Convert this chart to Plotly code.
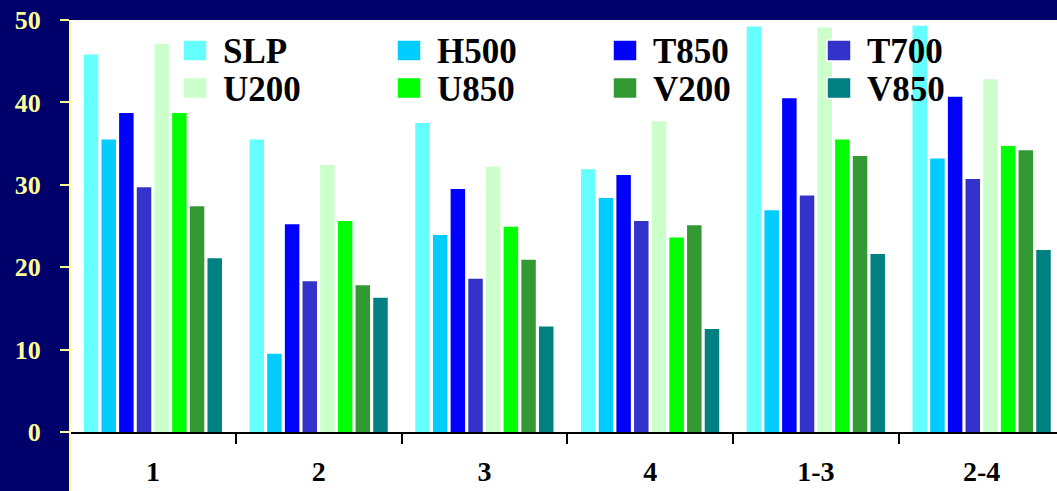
import plotly.graph_objects as go

categories = ["1", "2", "3", "4", "1-3", "2-4"]
series_names = ["SLP", "H500", "T850", "T700", "U200", "U850", "V200", "V850"]
SLP = [45.8, 35.5, 37.5, 31.9, 49.2, 49.3]
H500 = [35.5, 9.5, 23.9, 28.4, 26.9, 33.2]
T850 = [38.7, 25.2, 29.5, 31.2, 40.5, 40.7]
T700 = [29.7, 18.3, 18.6, 25.6, 28.7, 30.7]
U200 = [47.1, 32.4, 32.2, 37.7, 49.1, 42.8]
U850 = [38.7, 25.6, 24.9, 23.6, 35.5, 34.7]
V200 = [27.4, 17.8, 20.9, 25.1, 33.5, 34.2]
V850 = [21.1, 16.3, 12.8, 12.5, 21.6, 22.1]
y_ticks = [0, 10, 20, 30, 40, 50]
colors = ["#66FFFF", "#00CCFF", "#0000FF", "#3333CC",
          "#CCFFCC", "#00FF00", "#339933", "#008080"]

series_values = [SLP, H500, T850, T700, U200, U850, V200, V850]

W, H = 1057, 491
ML, MR, MT, MB = 70, 0, 20, 59
PW, PH = W - ML - MR, H - MT - MB
FONT = "Liberation Serif, Times New Roman, serif"
YEL = "#FFFF99"

def px_x(px):
    return (px - ML) / PW

def px_y(py):
    return (H - MB - py) / PH

fig = go.Figure()
for name, vals, col in zip(series_names, series_values, colors):
    fig.add_trace(go.Bar(x=categories, y=vals, name=name, marker_color=col,
                         marker_line_width=0, showlegend=False))

x_range = [-0.5, -0.5 + PW / 165.75]

shapes = [
    # white area below the axis
    dict(type="rect", xref="paper", yref="paper", x0=0, x1=1,
         y0=px_y(H), y1=0, fillcolor="white", line_width=0, layer="below"),
    # yellow left axis line
    dict(type="line", xref="paper", yref="paper", x0=0, x1=0,
         y0=px_y(H), y1=1, line=dict(color=YEL, width=2), layer="above"),
]

annotations = []
sw_x = [183, 397, 613, 827]
tx_x = [222, 436, 652, 866]
row_y = [50.5, 88]
for i, (name, col) in enumerate(zip(series_names, colors)):
    r, c = divmod(i, 4)
    shapes.append(dict(type="rect", xref="paper", yref="paper",
                       x0=px_x(sw_x[c]), x1=px_x(sw_x[c] + 24),
                       y0=px_y(row_y[r] + 10.5), y1=px_y(row_y[r] - 10.5),
                       fillcolor=col, line=dict(color="white", width=1.5),
                       layer="above"))
    annotations.append(dict(xref="paper", yref="paper", x=px_x(tx_x[c]),
                            y=px_y(row_y[r] + 1.5), xanchor="left", yanchor="middle",
                            text=name, showarrow=False, borderpad=0,
                            font=dict(family=FONT, size=35, color="black",
                                      weight="bold")))

fig.update_layout(
    width=W, height=H,
    margin=dict(l=ML, r=MR, t=MT, b=MB, pad=0),
    paper_bgcolor="#00006A",
    plot_bgcolor="white",
    barmode="group",
    bargap=0.147,
    bargroupgap=0.18,
    showlegend=False,
    shapes=shapes,
    annotations=annotations,
    xaxis=dict(type="category", range=x_range, showline=True, linecolor="black",
               linewidth=2, ticks="outside", tickson="boundaries", ticklen=10,
               tickwidth=2, tickcolor="black", showgrid=False, zeroline=False,
               ticklabelstandoff=13,
               tickfont=dict(family=FONT, size=28, color="black", weight="bold")),
    xaxis2=dict(overlaying="x", anchor="y", type="linear", range=x_range,
                tickvals=[v - 0.5 for v in range(len(categories) + 1)],
                ticks="inside", ticklen=9, tickwidth=2, tickcolor="black",
                showticklabels=False, showline=False, showgrid=False,
                zeroline=False, side="bottom"),
    yaxis=dict(range=[0, 50], tickvals=y_ticks, ticks="outside", ticklen=9,
               tickwidth=2, tickcolor=YEL, showline=False, showgrid=False,
               zeroline=False, ticklabelstandoff=14,
               tickfont=dict(family=FONT, size=26, color=YEL, weight="bold")),
)

fig.write_html("out.html")
